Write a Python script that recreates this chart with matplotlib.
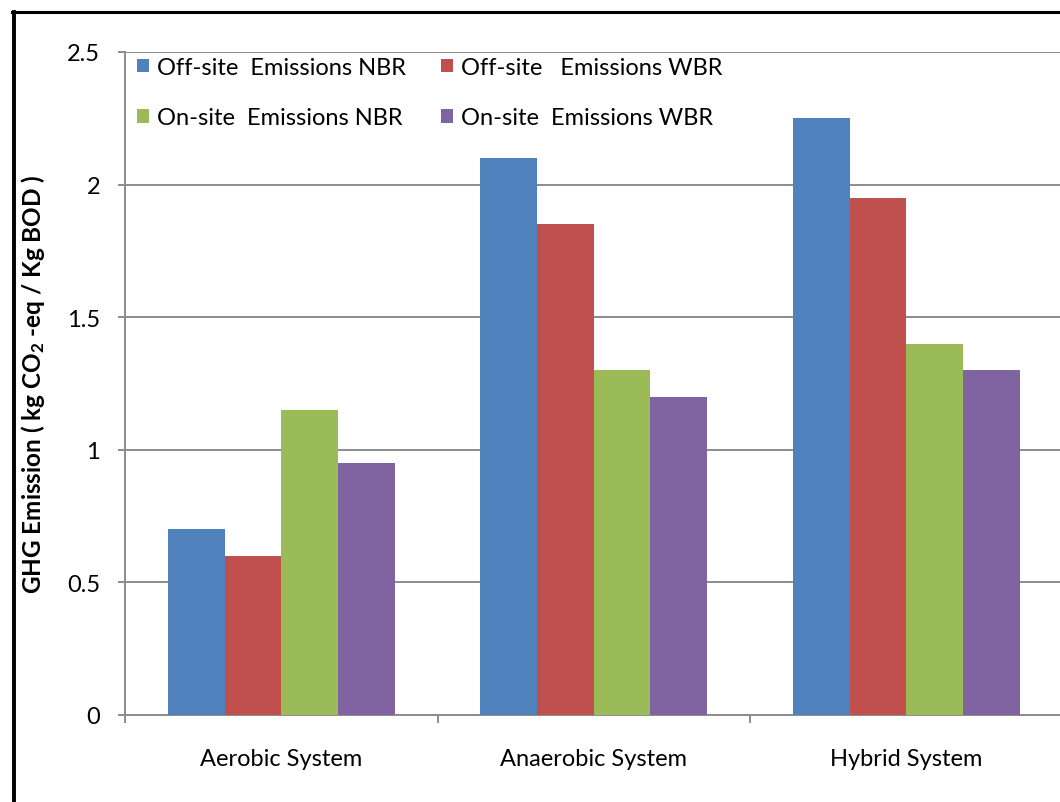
import matplotlib.pyplot as plt
import numpy as np
from matplotlib.lines import Line2D

# data
systems = ['Aerobic System', 'Anaerobic System', 'Hybrid System']
offsite_nbr = [0.70, 2.10, 2.25]
offsite_wbr = [0.60, 1.85, 1.95]
onsite_nbr = [1.15, 1.30, 1.40]
onsite_wbr = [0.95, 1.20, 1.30]
series_names = ['Off-site  Emissions NBR', 'Off-site   Emissions WBR',
                'On-site  Emissions NBR', 'On-site  Emissions WBR']
colors = ['#4F81BD', '#C0504D', '#9BBB59', '#8064A2']

plt.rcParams['font.family'] = ['Lato', 'DejaVu Sans']
plt.rcParams['mathtext.fontset'] = 'custom'
plt.rcParams['mathtext.rm'] = 'Lato:bold'
plt.rcParams['mathtext.it'] = 'Lato:bold'

fig = plt.figure(figsize=(10.6, 8.03), dpi=100)
ax = fig.add_axes([125 / 1060, 1 - 716 / 803, 937.5 / 1060, 663 / 803])

x = np.arange(len(systems))
w = 0.1814
all_series = [offsite_nbr, offsite_wbr, onsite_nbr, onsite_wbr]
bars = []
for i, vals in enumerate(all_series):
    b = ax.bar(x + (i - 1.5) * w, vals, w, color=colors[i], label=series_names[i], zorder=3)
    bars.append(b)

ax.set_xlim(-0.5, 2.5)
ax.set_ylim(0, 2.5)
ax.set_yticks([0, 0.5, 1, 1.5, 2, 2.5])
ax.set_yticklabels(['0', '0.5', '1', '1.5', '2', '2.5'])
ax.set_xticks(x)
ax.set_xticklabels(systems)
ax.set_xticks([-0.5, 0.5, 1.5, 2.5], minor=True)

gcol = '#8C8C8C'
ax.yaxis.grid(True, color=gcol, linewidth=1.4, zorder=0)
ax.set_axisbelow(True)
for s in ['top', 'right']:
    ax.spines[s].set_visible(False)
for s in ['left', 'bottom']:
    ax.spines[s].set_color(gcol)
    ax.spines[s].set_linewidth(1.4)

ax.tick_params(axis='y', length=5, width=1.4, color=gcol, pad=13, labelsize=17)
ax.tick_params(axis='x', which='major', length=0, pad=24, labelsize=17)
ax.tick_params(axis='x', which='minor', length=6, width=1.4, color=gcol)

ax.set_ylabel('GHG Emission ( kg CO$_2$ -eq / Kg BOD )', fontsize=17.5,
              fontweight='bold', labelpad=14)

# legend: two rows, two columns
order = [0, 2, 1, 3]
ax.legend([bars[i] for i in order], [series_names[i] for i in order], ncol=2,
          loc='upper left', bbox_to_anchor=(-0.01, 1.025), frameon=False,
          fontsize=17, handlelength=0.5, handleheight=0.5, handletextpad=0.35,
          labelspacing=1.25, columnspacing=1.5)

# outer chart border (left and top visible)
fig.add_artist(Line2D([13.5 / 1060, 13.5 / 1060], [0, 1 - 13 / 803],
                      transform=fig.transFigure, color='black', linewidth=2.8))
fig.add_artist(Line2D([12 / 1060, 1], [1 - 13 / 803, 1 - 13 / 803],
                      transform=fig.transFigure, color='black', linewidth=2.2))

fig.savefig('out.png', dpi=100)
